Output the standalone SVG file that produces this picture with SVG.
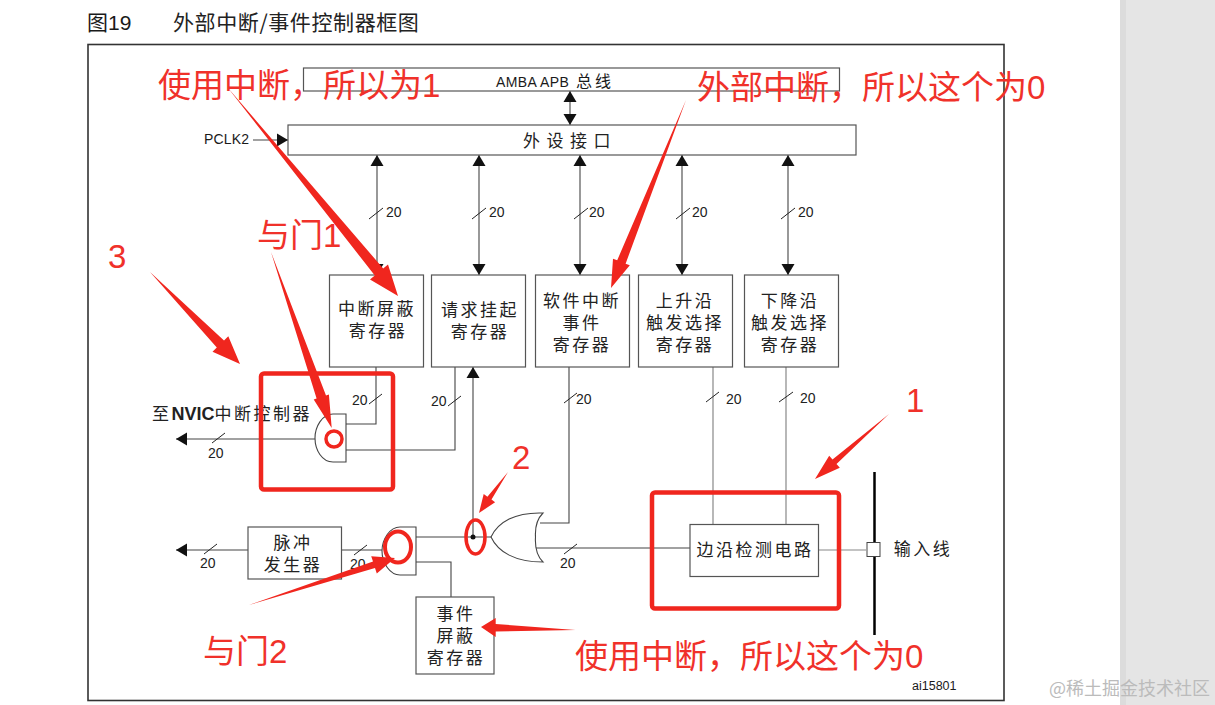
<svg xmlns="http://www.w3.org/2000/svg" width="1215" height="705" viewBox="0 0 1215 705">
<style>
.box{fill:#fff;stroke:#555;stroke-width:1.2}
.ln{fill:none;stroke:#444;stroke-width:1.1}
.lg{fill:none;stroke:#888;stroke-width:1.2}
.gate{fill:#fff;stroke:#444;stroke-width:1.1}
.tick{stroke:#222;stroke-width:1;fill:none}
text{font-family:"Liberation Sans","Noto Sans CJK SC",sans-serif;fill:#1a1a1a}
.cn{font-family:"Noto Sans CJK SC","Noto Sans CJK JP",sans-serif;font-size:17px;letter-spacing:2.500px;text-anchor:middle;fill:#222}
.n{font-size:14px;fill:#222}
.red{font-family:"Liberation Sans","Noto Sans CJK SC",sans-serif;font-size:33px;fill:#f0312a}
.rbox{fill:none;stroke:#f0261e;stroke-width:4.5;stroke-linejoin:round}
.rarrow{fill:#f0261e}
</style>
<defs>
<marker id="ah" markerUnits="userSpaceOnUse" markerWidth="13" markerHeight="14" refX="11" refY="7" orient="auto-start-reverse"><path d="M0,0.5 L11,7 L0,13.5 Z" fill="#111"/></marker>
</defs>
<rect width="1215" height="705" fill="#fff"/>
<rect x="1120" y="0" width="95" height="705" fill="#e5e5e5"/>
<rect x="1120" y="0" width="6" height="705" fill="#dcdcdc"/>
<text x="87" y="30" style="font-size:21px"><tspan style="font-family:'Noto Sans CJK SC',sans-serif">图</tspan>19</text>
<text x="173" y="30" style="font-family:'Noto Sans CJK SC',sans-serif;font-size:21px;letter-spacing:.6px;fill:#222">外部中断/事件控制器框图</text>
<rect x="88" y="44.500" width="916" height="656" fill="#fff" stroke="#333" stroke-width="1.600"/>

<g id="connectors">
<line class="ln" x1="570" y1="91" x2="570" y2="125" marker-start="url(#ah)" marker-end="url(#ah)"/>
<line class="ln" x1="253" y1="140" x2="288" y2="140" marker-end="url(#ah)"/>
<line class="ln" x1="377" y1="155" x2="377" y2="275" marker-start="url(#ah)" marker-end="url(#ah)"/>
<line class="ln" x1="479" y1="155" x2="479" y2="275" marker-start="url(#ah)" marker-end="url(#ah)"/>
<line class="ln" x1="580" y1="155" x2="580" y2="275" marker-start="url(#ah)" marker-end="url(#ah)"/>
<line class="ln" x1="682" y1="155" x2="682" y2="275" marker-start="url(#ah)" marker-end="url(#ah)"/>
<line class="ln" x1="788" y1="155" x2="788" y2="275" marker-start="url(#ah)" marker-end="url(#ah)"/>
<path class="ln" d="M376,367 V424 H346"/>
<path class="ln" d="M455,367 V450 H346"/>
<line class="ln" x1="315" y1="439" x2="176" y2="439" marker-end="url(#ah)"/>
<line class="ln" x1="473" y1="537" x2="473" y2="367" marker-end="url(#ah)"/>
<line class="ln" x1="416" y1="537" x2="492" y2="537"/>
<circle cx="473" cy="537" r="2.500" fill="#111"/>
<path class="ln" d="M416,562 H451 V597"/>
<path class="ln" d="M383,550 H341"/>
<line class="ln" x1="248" y1="550" x2="176" y2="550" marker-end="url(#ah)"/>
<path class="ln" d="M540,523 H569 V367"/>
<line class="ln" x1="536" y1="548" x2="690" y2="548"/>
<line class="lg" x1="713" y1="367" x2="713" y2="524"/>
<line class="lg" x1="786" y1="367" x2="786" y2="524"/>
<line class="lg" x1="818" y1="550" x2="866" y2="550"/>
<g class="tick">
<path d="M369,219 L383,208"/><path d="M472,219 L486,208"/><path d="M574,219 L588,208"/><path d="M676,219 L690,208"/><path d="M781,219 L795,208"/>
<path d="M369,404 L382,394"/><path d="M448,406 L461,396"/><path d="M564,403 L577,393"/><path d="M706,402 L719,392"/><path d="M779,402 L793,392"/>
<path d="M212,443 L225,433"/><path d="M204,554 L217,544"/><path d="M354,555 L367,545"/><path d="M564,554 L577,544"/>
</g>
<g>
<text class="n" x="386" y="217">20</text><text class="n" x="489" y="217">20</text><text class="n" x="589" y="217">20</text><text class="n" x="692" y="217">20</text><text class="n" x="798" y="217">20</text>
<text class="n" x="352" y="405">20</text><text class="n" x="431" y="406">20</text><text class="n" x="576" y="404">20</text><text class="n" x="726" y="404">20</text><text class="n" x="800" y="403">20</text>
<text class="n" x="208" y="458">20</text><text class="n" x="200" y="568">20</text><text class="n" x="350" y="569">20</text><text class="n" x="560" y="568">20</text>
</g>
</g>

<g id="apb-bus"><rect class="box" x="303.500" y="68" width="536" height="23"/>
<text x="496" y="87" style="font-size:14px;letter-spacing:.4px">AMBA APB</text><text x="576" y="87" style="font-family:'Noto Sans CJK SC',sans-serif;font-size:16px;letter-spacing:3px">总线</text></g>
<g id="periph-if"><rect class="box" x="288" y="125" width="568" height="30"/>
<text class="cn" x="570" y="147" style="letter-spacing:6.500px">外设接口</text></g>
<g id="pclk2"><text x="204" y="144" style="font-size:14px;letter-spacing:.2px">PCLK2</text></g>
<g id="reg-int-mask"><rect class="box" x="329.500" y="275" width="94" height="92"/><text class="cn" x="377" y="315">中断屏蔽</text><text class="cn" x="378" y="337">寄存器</text></g>
<g id="reg-pending"><rect class="box" x="431.500" y="275" width="94" height="92"/><text class="cn" x="480" y="316">请求挂起</text><text class="cn" x="480" y="338">寄存器</text></g>
<g id="reg-swi"><rect class="box" x="535.500" y="275" width="94" height="92"/><text class="cn" x="582" y="307">软件中断</text><text class="cn" x="582" y="329">事件</text><text class="cn" x="582" y="351">寄存器</text></g>
<g id="reg-rising"><rect class="box" x="638.500" y="275" width="94" height="92"/><text class="cn" x="685" y="307">上升沿</text><text class="cn" x="685" y="329">触发选择</text><text class="cn" x="685" y="351">寄存器</text></g>
<g id="reg-falling"><rect class="box" x="744.500" y="275" width="94" height="92"/><text class="cn" x="790" y="307">下降沿</text><text class="cn" x="790" y="329">触发选择</text><text class="cn" x="790" y="351">寄存器</text></g>
<g id="nvic-label"><text x="152" y="420" style="font-family:'Noto Sans CJK SC',sans-serif;font-size:17px;letter-spacing:2.500px;fill:#222">至<tspan style="font-family:'Liberation Sans',sans-serif;font-weight:bold;font-size:18px;letter-spacing:0">NVIC</tspan>中断控制器</text></g>
<g id="and-gate-1"><path class="gate" d="M333,414 H346 V462 H333 C322,462 315,450 315,438 C315,427 322,414 333,414 Z"/></g>
<g id="and-gate-2"><path class="gate" d="M400,527 H416 V575 H400 C390,575 382,563 382,551 C382,539 390,527 400,527 Z"/></g>
<g id="or-gate"><path class="gate" d="M543,513 C515,512 498,522 491,537 C498,552 515,562 543,562 C536,555 535,545 535.500,537 C535,529 536,520 543,513 Z"/></g>
<g id="pulse-gen"><rect class="box" x="248" y="527" width="93.500" height="52"/><text class="cn" x="293" y="549">脉冲</text><text class="cn" x="293" y="571">发生器</text></g>
<g id="reg-event-mask"><rect class="box" x="416" y="597" width="78" height="77"/><text class="cn" x="456" y="620">事件</text><text class="cn" x="456" y="642">屏蔽</text><text class="cn" x="456" y="664">寄存器</text></g>
<g id="edge-detect"><rect class="box" x="690" y="524.500" width="128.500" height="52"/><text class="cn" x="755" y="556" style="letter-spacing:2.500px">边沿检测电路</text></g>
<g id="input-line"><line x1="874.500" y1="472" x2="874.500" y2="635" stroke="#000" stroke-width="2.500"/><rect x="867" y="542.500" width="13" height="14" fill="#fff" stroke="#444"/><text class="cn" x="923" y="555">输入线</text></g>
<g id="code"><text x="912" y="690" style="font-size:12.500px">ai15801</text></g>
<text x="1049" y="695" style="font-family:'Noto Sans CJK SC',sans-serif;font-size:18px;fill:#bbb">@稀土掘金技术社区</text>

<g id="annotations">
<rect class="rbox" x="261" y="373.500" width="132" height="116" rx="3"/>
<rect class="rbox" x="652" y="492.500" width="187" height="116" rx="3"/>
<circle cx="334" cy="439" r="8" fill="none" stroke="#f0261e" stroke-width="3.500"/>
<ellipse cx="398" cy="547" rx="13" ry="15.500" fill="none" stroke="#f0261e" stroke-width="4"/>
<ellipse cx="475.500" cy="537" rx="9.500" ry="17" fill="none" stroke="#f0261e" stroke-width="3.500"/>
<polygon class="rarrow" points="228,88 383.200,268.500 388,264.400 398,296 370,279.600 374.800,275.500"/>
<polygon class="rarrow" points="686,100 625.600,263.700 629.800,265.300 611,288 613,258.700 617.200,260.300"/>
<polygon class="rarrow" points="150,272 224,340.500 228.300,336.300 240,364 212.500,351.700 216.800,347.500"/>
<polygon class="rarrow" points="271,252 326,395.400 328.900,394.400 331.700,428 313.700,399.600 316.600,398.600"/>
<polygon class="rarrow" points="508,472 491.500,499.600 495.100,502.300 479,513 483.700,494.100 487.400,496.800"/>
<polygon class="rarrow" points="889,414 836.500,464 839.800,467.800 815,479 829.200,455.800 832.500,459.500"/>
<polygon class="rarrow" points="249,605 375,568 376.800,573.400 395,558 371.200,556.200 373,561.500"/>
<polygon class="rarrow" points="575.500,630 495.700,624 495.700,618 481,627 495.700,637 495.700,631.600"/>
<text class="red" x="158" y="97">使用中断，所以为1</text>
<text class="red" x="697" y="99">外部中断，所以这个为0</text>
<text class="red" x="257" y="247">与门1</text>
<text class="red" x="108" y="268">3</text>
<text class="red" x="512" y="469">2</text>
<text class="red" x="906" y="412">1</text>
<text class="red" x="203" y="663">与门2</text>
<text class="red" x="575" y="668">使用中断，所以这个为0</text>
</g>
</svg>
